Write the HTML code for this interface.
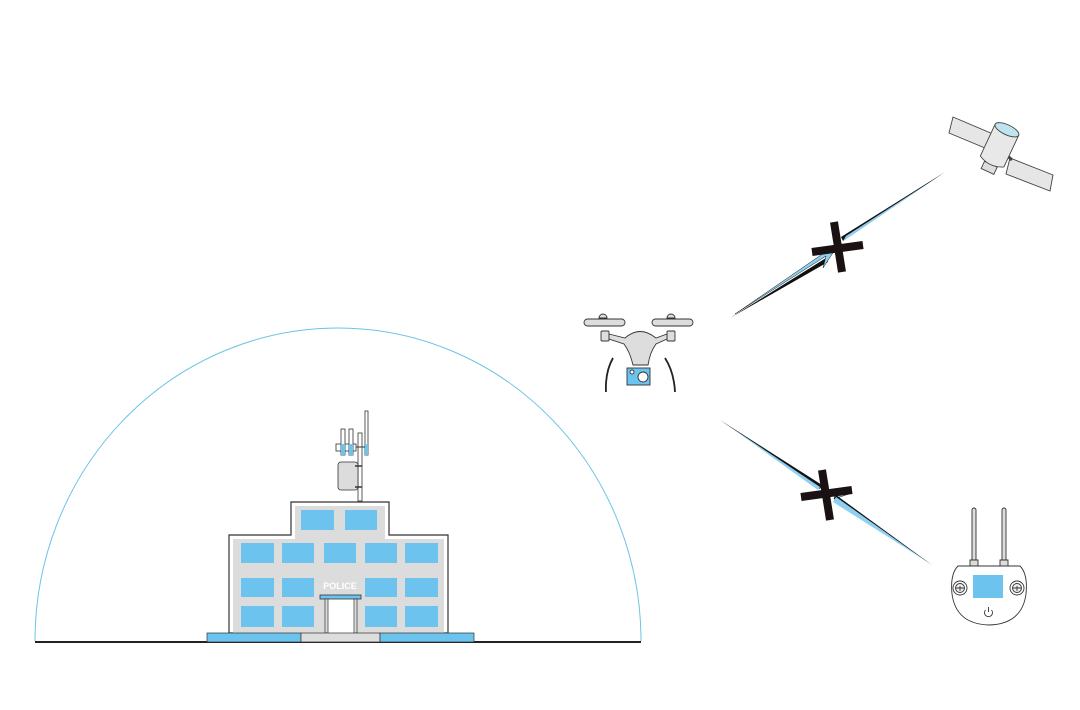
<!DOCTYPE html>
<html><head><meta charset="utf-8"><style>html,body{margin:0;padding:0;background:#fff}svg{display:block}</style></head>
<body>
<svg width="1080" height="710" viewBox="0 0 1080 710" xmlns="http://www.w3.org/2000/svg">
<rect width="1080" height="710" fill="#fff"/>
<!-- dome -->
<path d="M35,641 A303,313 0 0 1 641,641" fill="none" stroke="#6cc4e6" stroke-width="1"/>
<line x1="35" y1="642" x2="641" y2="642" stroke="#222" stroke-width="2"/>
<!-- building -->
<path d="M229,633 V535 H291 V502 H389 V535 H448 V633 Z" fill="#fff" stroke="#333" stroke-width="1.2"/>
<path d="M233,633 V539 H295 V506 H385 V539 H444 V633 Z" fill="#dcdcdc"/>
<g fill="#6cc4ee">
<rect x="301" y="510" width="33" height="20"/><rect x="345" y="510" width="32" height="20"/>
<rect x="241" y="543" width="33" height="20"/><rect x="282" y="543" width="32" height="20"/><rect x="324" y="543" width="32" height="20"/><rect x="365" y="543" width="32" height="20"/><rect x="405" y="543" width="33" height="20"/>
<rect x="241" y="578" width="33" height="19"/><rect x="282" y="578" width="32" height="19"/><rect x="365" y="578" width="32" height="19"/><rect x="405" y="578" width="33" height="19"/>
<rect x="241" y="606" width="33" height="21"/><rect x="282" y="606" width="32" height="21"/><rect x="365" y="606" width="32" height="21"/><rect x="405" y="606" width="33" height="21"/>
</g>
<text x="340" y="589" font-family="Liberation Sans, sans-serif" font-weight="bold" font-size="9" fill="#fff" text-anchor="middle">POLICE</text>
<rect x="325" y="599" width="32" height="34" fill="#fff"/>
<rect x="320" y="595" width="41" height="4" fill="#6cc4ee" stroke="#333" stroke-width="0.8"/>
<rect x="325" y="599" width="3" height="34" fill="#ddd" stroke="#333" stroke-width="0.7"/>
<rect x="354" y="599" width="3" height="34" fill="#ddd" stroke="#333" stroke-width="0.7"/>
<rect x="207" y="633" width="94" height="9" fill="#6cc4ee" stroke="#333" stroke-width="0.7"/>
<rect x="301" y="633" width="79" height="9" fill="#ddd" stroke="#333" stroke-width="0.7"/>
<rect x="380" y="633" width="94" height="9" fill="#6cc4ee" stroke="#333" stroke-width="0.7"/>
<!-- antenna -->
<rect x="358" y="433" width="4" height="68" fill="#fff" stroke="#333" stroke-width="0.8"/>
<rect x="365" y="411" width="3" height="44" fill="#fff" stroke="#333" stroke-width="0.8"/>
<rect x="365" y="444" width="3" height="11" fill="#6cc4ee"/>
<rect x="336" y="444" width="20" height="7" fill="#fff" stroke="#333" stroke-width="0.8"/>
<rect x="341" y="429" width="4" height="26" fill="#fff" stroke="#333" stroke-width="0.8"/>
<rect x="349" y="429" width="4" height="26" fill="#fff" stroke="#333" stroke-width="0.8"/>
<rect x="341" y="444" width="4" height="11" fill="#6cc4ee"/><rect x="349" y="444" width="4" height="11" fill="#6cc4ee"/>
<line x1="356" y1="447" x2="365" y2="447" stroke="#333"/>
<rect x="338" y="462" width="20" height="28" rx="3" fill="#dcdcdc" stroke="#333" stroke-width="0.8"/>
<line x1="355" y1="466" x2="362" y2="466" stroke="#333" stroke-width="1.5"/><line x1="355" y1="487" x2="362" y2="487" stroke="#333" stroke-width="1.5"/>
<!-- drone -->
<g stroke="#333" stroke-width="0.9" fill="#ddd">
<path d="M599,318 a4,4 0 0 1 8,0 z"/><path d="M667,318 a4,4 0 0 1 8,0 z"/>
<rect x="584" y="319" width="41" height="7" rx="3.5"/><rect x="652" y="319" width="41" height="7" rx="3.5"/>
<rect x="601" y="331" width="8" height="10" rx="1"/><rect x="667" y="331" width="8" height="10" rx="1"/>
<path d="M609,334 L625,338 Q640,325 656,338 L667,334 L667,339 L656,344 Q650,352 648,365 L633,365 Q630,352 624,344 L609,339 Z"/>
<rect x="627" y="368" width="23" height="17" fill="#6cc4ee"/>
<circle cx="643" cy="377" r="5" fill="#fff"/><circle cx="632" cy="372" r="2" fill="#fff"/>
</g>
<path d="M613,358 Q605,372 606,392" fill="none" stroke="#222" stroke-width="1.8"/>
<path d="M665,358 Q674,372 675,392" fill="none" stroke="#222" stroke-width="1.8"/>
<!-- satellite -->
<g stroke="#444" stroke-width="0.9">
<polygon points="953,117 1000,137 997,153 949,133" fill="#e6e6e6"/>
<polygon points="1010,158 1053,175 1050,191 1006,174" fill="#e6e6e6"/>
<line x1="996" y1="145" x2="1012" y2="160" stroke-width="3"/>
<g transform="rotate(25 1003 150)">
<rect x="991" y="168" width="14" height="8" fill="#ddd"/>
<path d="M985,130 V165 Q998,172 1011,165 V130 Z" fill="#e8e8e8"/>
<ellipse cx="998" cy="130" rx="13" ry="5" fill="#bfe4ef"/>
</g>
</g>
<!-- link 1 -->
<polygon points="730,318 826,258 828,262" fill="#111"/>
<polygon points="735,314 826,256 823,268 840,242" fill="#8ed0f0" stroke="#111" stroke-width="0.5"/>
<polygon points="945,172 843,241 841,237" fill="#111"/>
<polygon points="938,177 843,241 846,236" fill="#8ed0f0"/>
<line x1="834" y1="222" x2="842" y2="272" stroke="#1a1212" stroke-width="8"/>
<line x1="812" y1="252" x2="863" y2="245" stroke="#1a1212" stroke-width="8"/>
<!-- link 2 -->
<polygon points="720,420 822,485 820,489" fill="#111"/>
<polygon points="726,424 820,487 818,490" fill="#8ed0f0"/>
<polygon points="835,492 852,493 834,499" fill="#8ed0f0" stroke="#111" stroke-width="0.5"/>
<polygon points="932,565 834,499 836,495" fill="#111"/>
<polygon points="926,561 836,497 833,502" fill="#8ed0f0"/>
<line x1="822" y1="470" x2="830" y2="520" stroke="#1a1212" stroke-width="8"/>
<line x1="801" y1="497" x2="852" y2="490" stroke="#1a1212" stroke-width="8"/>
<!-- remote -->
<g stroke="#333" stroke-width="0.9">
<rect x="972" y="508" width="4" height="54" rx="2" fill="#ddd"/>
<rect x="1002" y="508" width="4" height="54" rx="2" fill="#ddd"/>
<path d="M970,566 V560 H978 V566 M1000,566 V560 H1008 V566" fill="#ddd"/>
<path d="M958,566 H1020 Q1028,574 1026,594 Q1022,624 989,625 Q956,624 952,594 Q950,574 958,566 Z" fill="#fff"/>
<rect x="973" y="575" width="30" height="23" fill="#6cc4ee" stroke="none"/>
<circle cx="960" cy="588" r="7" fill="#fff"/><circle cx="960" cy="588" r="4.5" fill="#eee"/>
<circle cx="1017" cy="588" r="7" fill="#fff"/><circle cx="1017" cy="588" r="4.5" fill="#eee"/>
<path d="M956,588 h8 M960,586 v5 M1013,588 h8 M1017,586 v5"/>
<path d="M985.5,610 a4,4 0 1 0 6,0" fill="none"/><line x1="988.5" y1="607" x2="988.5" y2="612"/>
</g>
</svg>
</body></html>
